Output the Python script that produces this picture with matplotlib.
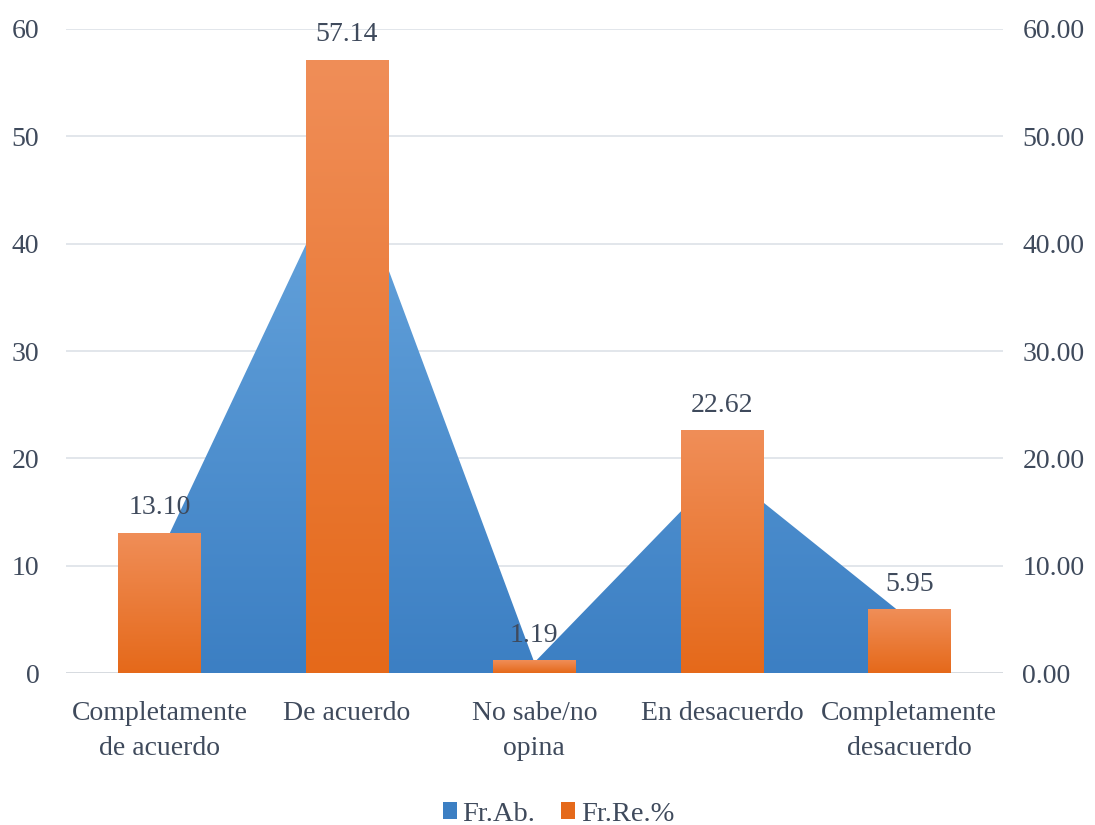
import numpy as np
import matplotlib
matplotlib.use("Agg")
import matplotlib.pyplot as plt
from matplotlib.colors import LinearSegmentedColormap
from matplotlib.patches import Patch

categories = ["Completamente\nde acuerdo", "De acuerdo", "No sabe/no\nopina",
              "En desacuerdo", "Completamente\ndesacuerdo"]
fr_ab = [11, 48, 1, 19, 5]
fr_re = [13.10, 57.14, 1.19, 22.62, 5.95]
left_ticks = [0, 10, 20, 30, 40, 50, 60]
right_ticks = [0, 10, 20, 30, 40, 50, 60]

TEXT = "#3f4a5c"
BLUE_TOP, BLUE_BOT = "#68a6de", "#3c7fc3"
ORANGE_TOP, ORANGE_BOT = "#f08e58", "#e5691a"

plt.rcParams["font.family"] = ["Liberation Serif", "DejaVu Serif"]
plt.rcParams["font.size"] = 20


def gradient(top, bottom):
    cmap = LinearSegmentedColormap.from_list("g", [bottom, top])
    return cmap, np.linspace(0, 1, 256).reshape(-1, 1)


fig = plt.figure(figsize=(10.95, 8.25), dpi=100)
ax = fig.add_axes([0.060, 0.184, 0.856, 0.781])
ax2 = ax.twinx()

x = np.arange(len(categories))

# area series (left axis) with vertical gradient clipped to the polygon
poly = ax.fill_between(x, fr_ab, 0, facecolor="none", edgecolor="none")
cmap, g = gradient(BLUE_TOP, BLUE_BOT)
im = ax.imshow(g, cmap=cmap, origin="lower", aspect="auto",
               extent=[x[0], x[-1], 0, max(fr_ab)], zorder=2)
im.set_clip_path(poly.get_paths()[0], transform=ax.transData)

# bar series (right axis), each bar with its own gradient
bars = ax2.bar(x, fr_re, width=0.44, facecolor="none", edgecolor="none", zorder=3)
cmap_o, g_o = gradient(ORANGE_TOP, ORANGE_BOT)
for b, v in zip(bars, fr_re):
    bim = ax2.imshow(g_o, cmap=cmap_o, origin="lower", aspect="auto",
                     extent=[b.get_x(), b.get_x() + b.get_width(), 0, v], zorder=3)
    bim.set_clip_path(b)
    ax2.annotate(f"{v:.2f}", (b.get_x() + b.get_width() / 2, v),
                 xytext=(0, 9), textcoords="offset points",
                 ha="center", va="bottom", color=TEXT, fontsize=20)

for a in (ax, ax2):
    a.set_xlim(-0.5, len(categories) - 0.5)
    a.set_ylim(0, 60)
    for s in a.spines.values():
        s.set_visible(False)

ax.set_yticks(left_ticks)
ax.set_yticklabels([str(t) for t in left_ticks])
ax2.set_yticks(right_ticks)
ax2.set_yticklabels([f"{t:.2f}" for t in right_ticks])
ax.grid(axis="y", color="#dde2e8", linewidth=1.2, zorder=0)
ax.set_axisbelow(True)
ax.axhline(0, color="#d5d9de", linewidth=1.2, zorder=1)

ax.set_xticks(x)
ax.set_xticklabels(categories, linespacing=1.55)
ax.tick_params(axis="x", length=0, pad=20, colors=TEXT, labelsize=20)
ax.tick_params(axis="y", length=0, pad=19, colors=TEXT, labelsize=20)
ax2.tick_params(axis="y", length=0, pad=14, colors=TEXT, labelsize=20)

handles = [Patch(facecolor=BLUE_BOT, label="Fr.Ab."),
           Patch(facecolor=ORANGE_BOT, label="Fr.Re.%")]
leg = fig.legend(handles=handles, loc="lower center", bbox_to_anchor=(0.51, -0.033),
                 ncol=2, frameon=False, fontsize=20.5, handlelength=0.5,
                 handleheight=0.5, handletextpad=0.2, columnspacing=0.9)
for t in leg.get_texts():
    t.set_color(TEXT)

fig.savefig("out.png", dpi=100, facecolor="white")
